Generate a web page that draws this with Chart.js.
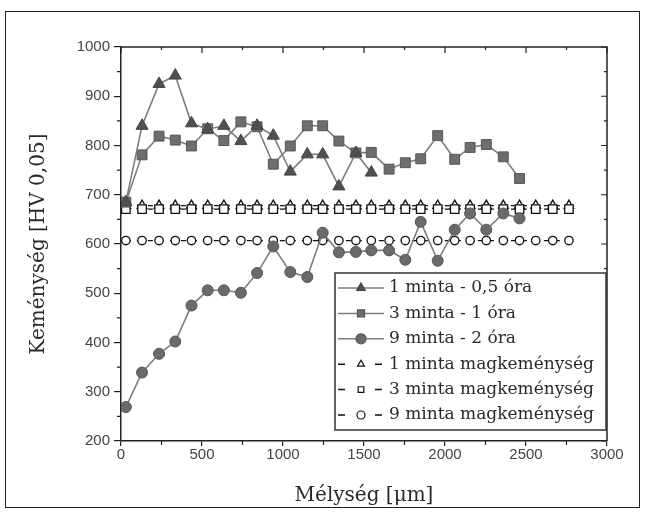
<!DOCTYPE html>
<html>
<head>
<meta charset="utf-8">
<script src="https://cdn.jsdelivr.net/npm/chart.js@4/dist/chart.umd.min.js"></script>
<style>
  body { margin: 0; background: #fff; }
  #wrap { position: relative; width: 646px; height: 522px; }
  #frame { position: absolute; left: 5px; top: 11px; width: 633px; height: 495px;
           border: 1.5px solid #222; pointer-events: none; }
</style>
</head>
<body>
<div id="wrap">
  <canvas id="chart" width="646" height="522"></canvas>
  <div id="frame"></div>
</div>
<script>
// depth positions (µm) of the measuring points
var depth = [30, 130, 235, 335, 435, 535, 635, 740, 840, 940, 1045, 1150, 1245, 1345,
             1450, 1545, 1655, 1755, 1850, 1955, 2060, 2155, 2255, 2360, 2460, 2560, 2665, 2765];

// hardness HV 0,05
var minta1 = [685, 840, 925, 942, 845, 833, 840, 809, 840, 820, 747, 782, 782, 717, 785, 745];
var minta3 = [685, 781, 819, 811, 799, 834, 810, 848, 838, 762, 799, 840, 840, 809, 785, 786,
              752, 765, 773, 820, 772, 796, 802, 777, 733];
var minta9 = [269, 339, 377, 402, 475, 506, 506, 501, 541, 595, 543, 533, 623, 583, 584, 587,
              587, 568, 645, 566, 629, 662, 629, 662, 652];

// core hardness of the samples
var core1 = [678];
var core3 = [671];
var core9 = [607];

var labels = ['1 minta - 0,5 óra', '3 minta - 1 óra', '9 minta - 2 óra',
              '1 minta magkeménység', '3 minta magkeménység', '9 minta magkeménység'];

function pts(vals) {
  return vals.map(function (v, i) { return {x: depth[i], y: v}; });
}
function flat(v) {
  return depth.map(function (d) { return {x: d, y: v[0]}; });
}

var serif = 'DejaVu Serif';
var lineGray = '#7d7d7d';

var styles = [
  {pointStyle: 'triangle', radius: 7, fill: '#505050', stroke: '#444', line: lineGray, dash: []},
  {pointStyle: 'rect', radius: 7, fill: '#6e6e6e', stroke: '#555', line: lineGray, dash: []},
  {pointStyle: 'circle', radius: 5.5, fill: '#6a6a6a', stroke: '#555', line: lineGray, dash: []},
  {pointStyle: 'triangle', radius: 5.5, fill: '#fff', stroke: '#111', line: '#111', dash: [5, 6]},
  {pointStyle: 'rect', radius: 6, fill: '#fff', stroke: '#111', line: '#111', dash: [5, 6]},
  {pointStyle: 'circle', radius: 4.2, fill: '#fff', stroke: '#111', line: '#111', dash: [5, 6]}
];

var series = [pts(minta1), pts(minta3), pts(minta9), flat(core1), flat(core3), flat(core9)];
var order = [1, 2, 3, 6, 5, 7];

var datasets = series.map(function (d, i) {
  var s = styles[i];
  return {
    label: labels[i],
    data: d,
    order: order[i],
    borderColor: s.line,
    borderWidth: i < 3 ? 1.6 : 1.3,
    borderDash: s.dash,
    pointStyle: s.pointStyle,
    pointRadius: s.radius,
    pointBackgroundColor: s.fill,
    pointBorderColor: s.stroke,
    pointBorderWidth: i < 3 ? 1 : 1.3,
    tension: 0
  };
});

// top/right frame, minor ticks and the inside legend
var framePlugin = {
  id: 'frame',
  afterDraw: function (chart) {
    var ctx = chart.ctx, ca = chart.chartArea;
    var xs = chart.scales.x, ys = chart.scales.y;
    ctx.save();
    ctx.strokeStyle = '#222';
    ctx.lineWidth = 1.5;
    ctx.beginPath();
    ctx.moveTo(ca.left, ca.top);
    ctx.lineTo(ca.right, ca.top);
    ctx.lineTo(ca.right, ca.bottom);
    ctx.stroke();

    ctx.lineWidth = 1.2;
    ctx.beginPath();
    var xt = xs.ticks.map(function (t) { return t.value; });
    xt.forEach(function (v, i) {
      var p = xs.getPixelForValue(v);
      ctx.moveTo(p, ca.top); ctx.lineTo(p, ca.top + 6);
      if (i < xt.length - 1) {
        var m = xs.getPixelForValue((v + xt[i + 1]) / 2);
        ctx.moveTo(m, ca.top); ctx.lineTo(m, ca.top + 3);
        ctx.moveTo(m, ca.bottom); ctx.lineTo(m, ca.bottom + 4);
      }
    });
    var yt = ys.ticks.map(function (t) { return t.value; });
    yt.forEach(function (v, i) {
      var p = ys.getPixelForValue(v);
      ctx.moveTo(ca.right, p); ctx.lineTo(ca.right - 6, p);
      if (i < yt.length - 1) {
        var m = ys.getPixelForValue((v + yt[i + 1]) / 2);
        ctx.moveTo(ca.right, m); ctx.lineTo(ca.right - 3, m);
        ctx.moveTo(ca.left, m); ctx.lineTo(ca.left - 4, m);
      }
    });
    ctx.stroke();

    // legend box
    var bw = 271, bh = 157;
    var bx = ca.right - bw - 1, by = ca.bottom - 11 - bh;
    ctx.fillStyle = '#fff';
    ctx.fillRect(bx, by, bw, bh);
    ctx.strokeStyle = '#333';
    ctx.lineWidth = 1.5;
    ctx.strokeRect(bx, by, bw, bh);

    ctx.font = '17px "' + serif + '"';
    ctx.textBaseline = 'middle';
    ctx.textAlign = 'left';
    labels.forEach(function (lab, i) {
      var s = styles[i];
      var cy = by + 15 + i * 25.4;
      var x1 = bx + 3, x2 = bx + 49, cx = (x1 + x2) / 2;
      ctx.strokeStyle = s.line;
      ctx.lineWidth = 1.5;
      ctx.beginPath();
      if (i < 3) {
        ctx.moveTo(x1, cy); ctx.lineTo(x2, cy);
      } else {
        ctx.moveTo(x1, cy); ctx.lineTo(x1 + 7, cy);
        ctx.moveTo(x2 - 9, cy); ctx.lineTo(x2 - 2, cy);
      }
      ctx.stroke();
      ctx.fillStyle = s.fill;
      ctx.strokeStyle = s.stroke;
      ctx.lineWidth = 1.2;
      Chart.helpers.drawPoint(ctx, {pointStyle: s.pointStyle, radius: i < 3 ? 5 : 4,
        rotation: 0, borderWidth: 1.2}, cx, cy);
      ctx.fillStyle = '#2a2a2a';
      ctx.fillText(lab, bx + 54, cy);
    });
    ctx.restore();
  }
};

var tickFont = {family: 'Liberation Sans', size: 15};
function plain(v) { return String(v); }

new Chart(document.getElementById('chart'), {
  type: 'line',
  data: {datasets: datasets},
  plugins: [framePlugin],
  options: {
    responsive: false,
    animation: false,
    layout: {padding: {left: 0, right: 39, top: 47, bottom: 0}},
    plugins: {legend: {display: false}, tooltip: {enabled: false}},
    scales: {
      x: {
        type: 'linear', min: 0, max: 3000,
        ticks: {stepSize: 500, font: tickFont, color: '#444', padding: 0, maxRotation: 0,
                callback: plain},
        grid: {drawOnChartArea: false, tickLength: 5, color: '#222', lineWidth: 1.2},
        border: {color: '#222', width: 1.5},
        title: {display: true, text: 'Mélység [μm]', color: '#2a2a2a',
                font: {family: serif, size: 20}, padding: {top: 0, bottom: 14}},
        afterFit: function (s) { s.height = 81; }
      },
      y: {
        min: 200, max: 1000,
        ticks: {stepSize: 100, font: tickFont, color: '#444', padding: 4, callback: plain},
        grid: {drawOnChartArea: false, tickLength: 7, color: '#222', lineWidth: 1.2},
        border: {color: '#222', width: 1.5},
        title: {display: true, text: 'Keménység [HV 0,05]', color: '#2a2a2a',
                font: {family: serif, size: 20}, padding: {top: 27, bottom: 0}},
        afterFit: function (s) { s.width = 121; }
      }
    }
  }
});
</script>
</body>
</html>
